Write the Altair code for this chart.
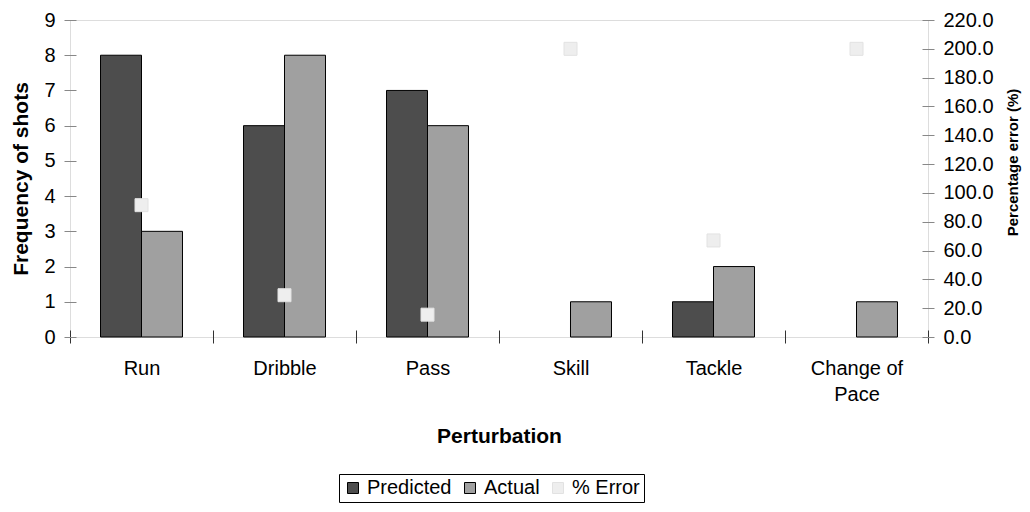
import altair as alt
import pandas as pd

categories = ["Run", "Dribble", "Pass", "Skill", "Tackle", "Change of Pace"]
predicted = [8, 6, 7, 0, 1, 0]
actual = [3, 8, 6, 1, 2, 1]
pct_error = [91.5, 29.0, 15.5, 200.0, 67.0, 200.0]
series_names = ["Predicted", "Actual", "% Error"]
series_colors = ["#4d4d4d", "#a0a0a0", "#eeeeee"]
series_strokes = ["#000000", "#000000", "#e2e2e2"]
left_ticks = list(range(0, 10))
right_ticks = list(range(0, 221, 20))

bars_df = pd.DataFrame({
    "category": categories * 2,
    "series": ["Predicted"] * len(categories) + ["Actual"] * len(categories),
    "value": predicted + actual,
})
err_df = pd.DataFrame({
    "category": categories,
    "series": ["% Error"] * len(categories),
    "error": pct_error,
})

FONT = "Liberation Sans"
W, H = 858, 317

xscale = alt.Scale(domain=categories, paddingInner=0, paddingOuter=0)
xaxis = alt.Axis(
    title="Perturbation",
    labelAngle=0,
    labelExpr="datum.label == 'Change of Pace' ? ['Change of', 'Pace'] : datum.label",
    labelFontSize=20,
    labelLineHeight=26,
    labelBaseline="top",
    labelPadding=15,
    tickBand="extent",
    tickSize=13,
    offset=-7,
    domain=False,
    tickColor="#333333",
    titleFontSize=21,
    titleFontWeight="bold",
    titleX=W / 2,
    titleY=112,
    titleBaseline="alphabetic",
    titleAlign="center",
    grid=False,
)

legend = alt.Legend(
    title=None,
    orient="none",
    legendX=269,
    legendY=454,
    direction="horizontal",
    symbolType="square",
    symbolSize=121,
    symbolStrokeWidth=1,
    labelFontSize=20,
    labelFont=FONT,
    labelOffset=4,
    columnPadding=8,
    padding=4,
    strokeColor="black",
    fillColor="white",
)

color = alt.Color("series:N", scale=alt.Scale(domain=series_names, range=series_colors), legend=legend)
stroke = alt.Stroke("series:N", scale=alt.Scale(domain=series_names, range=series_strokes), legend=legend)

bars = alt.Chart(bars_df).transform_filter("datum.value > 0").mark_bar(strokeWidth=1).encode(
    x=alt.X("category:N", scale=xscale, axis=xaxis, sort=categories),
    xOffset=alt.XOffset("series:N", scale=alt.Scale(domain=["Predicted", "Actual"], paddingInner=0, paddingOuter=0.744)),
    y=alt.Y("value:Q", scale=alt.Scale(domain=[0, 9], nice=False),
            axis=alt.Axis(title="Frequency of shots", orient="left", values=left_ticks,
                          offset=-6, domain=False, tickSize=12, labelPadding=9,
                          labelFontSize=20, titleFontSize=21, titleFontWeight="bold",
                          titleAngle=270, titleX=-55, titleY=H / 2,
                          titleAlign="center", titleBaseline="middle", grid=False)),
    color=color,
    stroke=stroke,
)

points = alt.Chart(err_df).mark_point(shape="square", filled=True, size=169, opacity=1, strokeWidth=1).encode(
    x=alt.X("category:N", scale=xscale, sort=categories),
    y=alt.Y("error:Q", scale=alt.Scale(domain=[0, 220], nice=False),
            axis=alt.Axis(title="Percentage error (%)", orient="right", values=right_ticks, format=".1f",
                          offset=-6, domain=False, tickSize=12, labelPadding=9,
                          labelFontSize=20, titleFontSize=15, titleFontWeight="bold",
                          titleAngle=270, titleX=90, titleY=142,
                          titleAlign="center", titleBaseline="middle", grid=False)),
    color=color,
    stroke=stroke,
)

chart = alt.layer(bars, points).resolve_scale(y="independent").properties(
    width=W,
    height=H,
    autosize=alt.AutoSizeParams(type="none"),
    padding={"left": 62, "top": 12, "right": 94, "bottom": 167},
).configure_view(
    fill="#C0C0C0", stroke="#333333", strokeWidth=1
).configure_axis(
    labelFont=FONT, titleFont=FONT, labelColor="black", titleColor="black",
    tickColor="black", tickWidth=1,
).configure(background="white")

chart.save("out.html", embed_options={"renderer": "svg", "actions": False})
